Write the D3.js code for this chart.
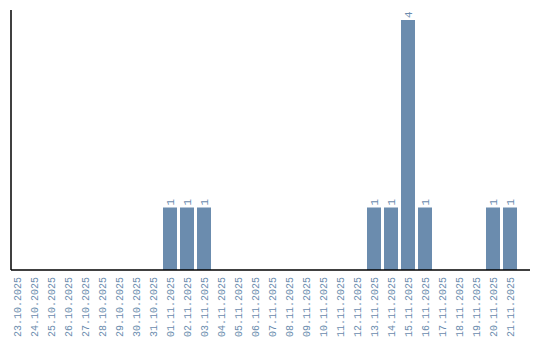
<!DOCTYPE html>
<html>
<head>
<meta charset="utf-8">
<script src="https://cdn.jsdelivr.net/npm/d3@7"></script>
<style>
  body { margin: 0; background: #fff; }
  svg { display: block; }
</style>
</head>
<body>
<div id="chart"></div>
<script>
// days shown on the x axis
var days = ["23.10.2025", "24.10.2025", "25.10.2025", "26.10.2025", "27.10.2025",
  "28.10.2025", "29.10.2025", "30.10.2025", "31.10.2025", "01.11.2025",
  "02.11.2025", "03.11.2025", "04.11.2025", "05.11.2025", "06.11.2025",
  "07.11.2025", "08.11.2025", "09.11.2025", "10.11.2025", "11.11.2025",
  "12.11.2025", "13.11.2025", "14.11.2025", "15.11.2025", "16.11.2025",
  "17.11.2025", "18.11.2025", "19.11.2025", "20.11.2025", "21.11.2025"];
// count per day
var counts = [0, 0, 0, 0, 0, 0, 0, 0, 0, 1,
  1, 1, 0, 0, 0, 0, 0, 0, 0, 0,
  0, 1, 1, 4, 1, 0, 0, 0, 1, 1];

var width = 540, height = 340;
var color = "#6b8cae";
var fontFam = "'Liberation Mono', monospace";

var svg = d3.select("#chart").append("svg")
  .attr("width", width)
  .attr("height", height);

var x = d3.scaleBand()
  .domain(days)
  .range([8.5, 518.5])
  .paddingInner(3 / 17)
  .paddingOuter(3 / 34);

var y = d3.scaleLinear()
  .domain([0, d3.max(counts) * 1.04])
  .range([270, 10]);

var data = days.map(function (d, i) { return { day: d, n: counts[i] }; });

// bars
svg.selectAll(".bar")
  .data(data.filter(function (d) { return d.n > 0; }))
  .enter().append("rect")
    .attr("class", "bar")
    .attr("x", function (d) { return x(d.day); })
    .attr("y", function (d) { return y(d.n); })
    .attr("width", x.bandwidth())
    .attr("height", function (d) { return y(0) - y(d.n); })
    .attr("fill", color);

// value labels, rotated
svg.selectAll(".val")
  .data(data.filter(function (d) { return d.n > 0; }))
  .enter().append("text")
    .attr("class", "val")
    .attr("transform", function (d) {
      return "translate(" + (x(d.day) + x.bandwidth() / 2) + "," + (y(d.n) - 2) + ") rotate(-90)";
    })
    .attr("dy", "0.35em")
    .style("font-family", fontFam)
    .style("font-size", "11px")
    .style("fill", color)
    .text(function (d) { return d.n; });

// x axis
var xAxis = svg.append("g")
  .attr("transform", "translate(0,270)")
  .call(d3.axisBottom(x).tickSize(0).tickPadding(0));
xAxis.select(".domain").remove();
xAxis.selectAll("text")
  .attr("transform", "rotate(-90)")
  .attr("x", -7)
  .attr("y", 0)
  .attr("dy", "0.35em")
  .style("text-anchor", "end")
  .style("font-family", fontFam)
  .style("font-size", "10px")
  .style("fill", color);

svg.append("line")
  .attr("x1", 11).attr("x2", 530)
  .attr("y1", 270).attr("y2", 270)
  .attr("stroke", "#000").attr("stroke-width", 1.5);

// y axis line only
svg.append("line")
  .attr("x1", 11).attr("x2", 11)
  .attr("y1", 10).attr("y2", 270)
  .attr("stroke", "#000").attr("stroke-width", 1.5);
</script>
</body>
</html>
